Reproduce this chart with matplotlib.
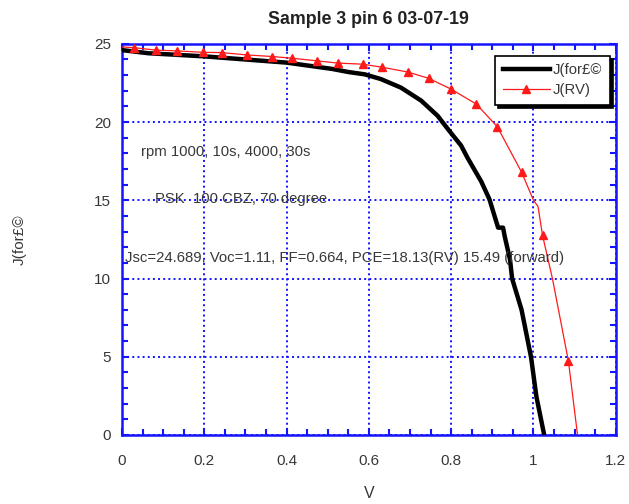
import matplotlib
matplotlib.use('Agg')
import matplotlib.pyplot as plt

plt.rcParams['font.family'] = ['Liberation Sans', 'DejaVu Sans']

# forward scan (thick black)
black_v = [0.0, 0.064, 0.2, 0.4, 0.51, 0.55, 0.59, 0.629, 0.678, 0.727, 0.767, 0.792,
           0.824, 0.84, 0.873, 0.893, 0.914, 0.926, 0.93, 0.943, 0.948, 0.971, 0.994,
           1.007, 1.026]
black_j = [24.6, 24.4, 24.2, 23.8, 23.4, 23.2, 23.05, 22.75, 22.2, 21.37, 20.4, 19.55,
           18.5, 17.7, 16.2, 15.06, 13.25, 13.25, 12.7, 11.2, 10.0, 8.0, 4.98,
           2.46, 0.0]

# reverse scan (red with triangles)
red_v = [0.0, 0.028, 0.082, 0.133, 0.196, 0.243, 0.304, 0.365, 0.414, 0.475, 0.524,
         0.585, 0.633, 0.694, 0.745, 0.80, 0.861, 0.912, 0.971, 1.0, 1.011, 1.022,
         1.046, 1.085, 1.107]
red_j = [24.8, 24.76, 24.6, 24.55, 24.46, 24.44, 24.29, 24.19, 24.08, 23.91, 23.77,
         23.7, 23.5, 23.2, 22.8, 22.1, 21.15, 19.7, 16.8, 15.0, 14.6, 12.75,
         10.0, 4.7, 0.0]
red_marks = list(range(1, 19)) + [21, 23]

x_ticks = [0, 0.2, 0.4, 0.6, 0.8, 1, 1.2]
x_tick_labels = ['0', '0.2', '0.4', '0.6', '0.8', '1', '1.2']
y_ticks = [0, 5, 10, 15, 20, 25]

notes = [
    (0.046, 18.1, 'rpm 1000, 10s, 4000, 30s'),
    (0.08, 15.06, 'PSK  100 CBZ, 70 degree'),
    (0.008, 11.3, 'Jsc=24.689, Voc=1.11, FF=0.664, PCE=18.13(RV) 15.49 (forward)'),
]

blue = '#1414ff'
grey = '#383838'

fig = plt.figure(figsize=(6.29, 5.04), dpi=100)
ax = fig.add_axes([0.194, 0.137, 0.785, 0.776])

ax.plot(black_v, black_j, color='black', lw=3.2, label='J(for£©', zorder=3)
ax.plot(red_v, red_j, color='#ff1a1a', lw=0.9, marker='^', ms=6,
        markevery=red_marks, label='J(RV)', zorder=4)

ax.set_xlim(0, 1.2)
ax.set_ylim(0, 25)
ax.set_xticks(x_ticks)
ax.set_xticklabels(x_tick_labels)
ax.set_yticks(y_ticks)
ax.set_xticks([i * 0.05 for i in range(25)], minor=True)
ax.set_yticks(range(26), minor=True)

ax.grid(True, which='major', color=blue, ls=':', lw=1.4)
for s in ax.spines.values():
    s.set_color(blue)
    s.set_linewidth(1.8)
ax.tick_params(which='both', direction='in', top=True, right=True, color=blue,
               width=1.5, labelcolor=grey, labelsize=11)
ax.tick_params(which='major', length=5)
ax.tick_params(which='minor', length=4)
ax.tick_params(axis='x', pad=14)
ax.tick_params(axis='y', pad=8)

for x, y, t in notes:
    ax.text(x, y, t, fontsize=10.7, color=grey, va='center', ha='left', zorder=5)

ax.set_title('Sample 3 pin 6 03-07-19', fontsize=12.8, fontweight='bold',
             color='#222222', pad=14)
ax.set_xlabel('V', fontsize=11.5, color=grey)
ax.set_ylabel('J(for£©', fontsize=11, color=grey)
ax.xaxis.set_label_coords(0.5, -0.13)
ax.yaxis.set_label_coords(-0.194, 0.5)

leg = ax.legend(loc='upper right', bbox_to_anchor=(0.988, 0.969), borderaxespad=0,
                fancybox=False, edgecolor='black', framealpha=1,
                shadow={'color': 'black', 'alpha': 1}, fontsize=10.7,
                handlelength=3.2, handletextpad=0.2, labelspacing=0.4,
                borderpad=0.5)
leg.get_frame().set_linewidth(1.2)
for t in leg.get_texts():
    t.set_color(grey)

fig.savefig('out.png', dpi=100)
